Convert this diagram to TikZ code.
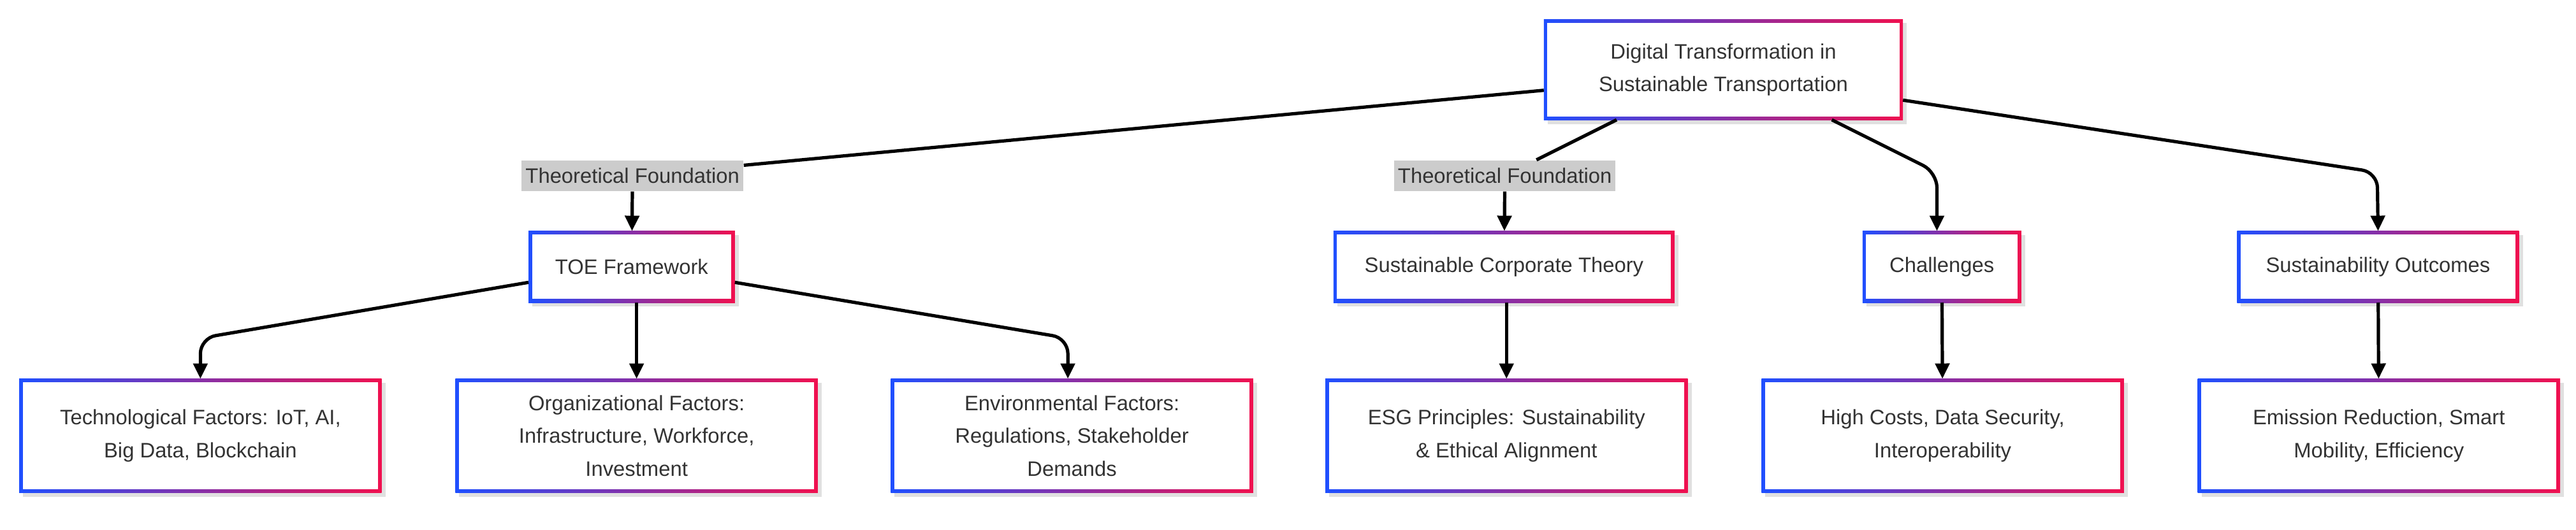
\documentclass[tikz,border=0pt]{standalone}
\usepackage{fontspec}
\setmainfont{Liberation Sans}
\usetikzlibrary{arrows.meta,backgrounds}
\definecolor{gblue}{HTML}{1F4FFF}
\definecolor{gred}{HTML}{F0104F}
\definecolor{txt}{HTML}{333333}
\definecolor{lblbg}{HTML}{CCCCCC}
\tikzset{
  box/.style={draw=none,align=center,text=txt,font=\fontsize{8.2pt}{12.9pt}\selectfont,inner sep=0pt},
  lbl/.style={fill=lblbg,text=txt,font=\fontsize{8.2pt}{10pt}\selectfont,inner sep=1.5pt,minimum height=12pt},
  e/.style={line width=1.3pt,black,rounded corners=6pt},
  ea/.style={e,-{Triangle[length=6pt,width=5.5pt]}}
}
\begin{document}
\begin{tikzpicture}[x=0.6443pt,y=-0.6443pt]
\useasboundingbox (0,0) rectangle (1568,322.5);
\node[box,minimum width=218*0.6443pt,minimum height=61*0.6443pt] (top) at (1049,42.5) {Digital Transformation in\\Sustainable Transportation};
\node[lbl] (l1) at (385,107) {Theoretical Foundation};
\node[lbl] (l2) at (916,107) {Theoretical Foundation};
\foreach \n/\x/\w/\t in {toe/384.5/125/TOE Framework, sct/915.5/207/Sustainable Corporate Theory, ch/1182/96/Challenges, so/1447.5/171/Sustainability Outcomes}
  \node[box,minimum width=\w*0.6443pt,minimum height=43*0.6443pt] (\n) at (\x,162.5) {\t};
\foreach \n/\x/\t in {tech/122/{Technological Factors: IoT, AI,\\Big Data, Blockchain},
  org/387.5/{Organizational Factors:\\Infrastructure, Workforce,\\Investment},
  env/652.5/{Environmental Factors:\\Regulations, Stakeholder\\Demands},
  esg/917/{ESG Principles: Sustainability\\\& Ethical Alignment},
  hc/1182.5/{High Costs, Data Security,\\Interoperability},
  em/1448/{Emission Reduction, Smart\\Mobility, Efficiency}}
  \node[box,minimum width=220*0.6443pt,minimum height=69*0.6443pt] (\n) at (\x,265.5) {\t};
\begin{scope}[on background layer]
\fill[white] (0,0) rectangle (1568,322.5);
\foreach \n in {top,toe,sct,ch,so,tech,org,env,esg,hc,em}{
  \fill[black!12] ([shift={(1.5pt,-1.5pt)}]\n.south west) rectangle ([shift={(1.5pt,-1.5pt)}]\n.north east);
  \shade[left color=gblue,right color=gred] (\n.south west) rectangle (\n.north east);
  \fill[white] ([shift={(1.4pt,1.4pt)}]\n.south west) rectangle ([shift={(-1.4pt,-1.4pt)}]\n.north east);
}
\end{scope}
\coordinate (c1) at (1179,105);
\coordinate (c2) at (1447,105);
\coordinate (c3) at (122,206);
\coordinate (c4) at (650,206);
\draw[e] (top.west|-0,55) -- (l1);
\draw[e] (984,73) -- (l2);
\draw[ea] (l1) -- (toe);
\draw[ea] (l2) -- (sct);
\draw[ea] (1115,73) -- (c1) -- (c1|-ch.north);
\draw[ea] (top.east|-0,61) -- (c2) -- (so.north);
\draw[ea] (toe.west|-0,172) -- (c3) -- (tech.north);
\draw[ea] (toe.south-|org) -- (org.north);
\draw[ea] (toe.east|-0,172) -- (c4) -- (c4|-env.north);
\draw[ea] (sct.south-|esg) -- (esg.north);
\draw[ea] (ch) -- (hc);
\draw[ea] (so) -- (em);
\end{tikzpicture}
\end{document}
